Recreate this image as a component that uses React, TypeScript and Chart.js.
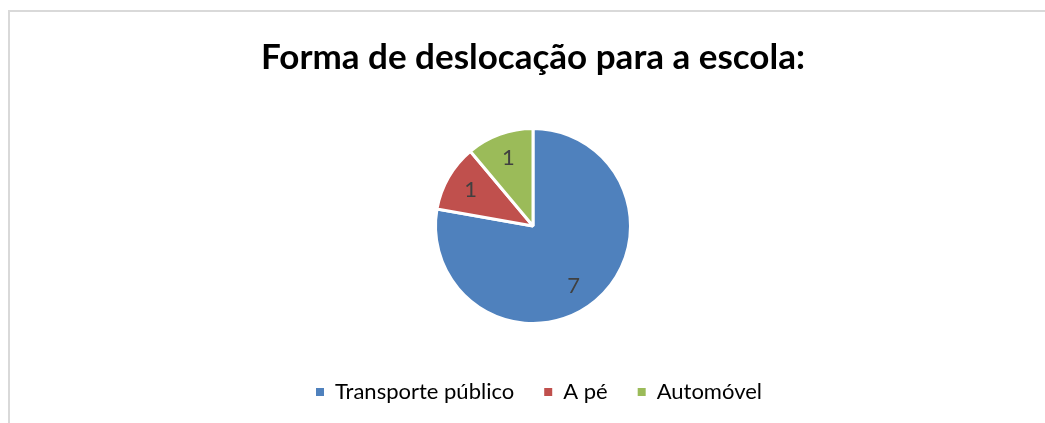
import React, { useEffect, useRef } from "react";
import { Chart, registerables } from "chart.js";

Chart.register(...registerables);

const chartTitle = "Forma de deslocação para a escola:";
const categories = ["Transporte público", "A pé", "Automóvel"];
const values = [7, 1, 1];
const sliceColors = ["#4F81BD", "#C0504D", "#9BBB59"];

const W = 1045;
const H = 423;

export default function App() {
  const ref = useRef<HTMLCanvasElement>(null);

  useEffect(() => {
    const canvas = ref.current;
    if (!canvas) return;

    const framePlugin = {
      id: "frame",
      beforeDraw(chart: any) {
        const ctx = chart.ctx;
        ctx.save();
        ctx.fillStyle = "#ffffff";
        ctx.fillRect(0, 0, chart.width, chart.height);
        ctx.strokeStyle = "#d9d9d9";
        ctx.lineWidth = 2;
        ctx.beginPath();
        ctx.moveTo(9, 10);
        ctx.lineTo(9, chart.height);
        ctx.moveTo(8, 11);
        ctx.lineTo(chart.width, 11);
        ctx.stroke();
        ctx.restore();
      },
    };

    const legendShiftPlugin = {
      id: "legendShift",
      afterLayout(chart: any) {
        const lg = chart.legend;
        if (lg) {
          lg.left += 6;
          lg.right += 6;
        }
      },
    };

    const labelPlugin = {
      id: "sliceLabels",
      afterDatasetsDraw(chart: any) {
        const ctx = chart.ctx;
        const meta = chart.getDatasetMeta(0);
        const data = chart.data.datasets[0].data;
        ctx.save();
        ctx.fillStyle = "#404040";
        ctx.font = "22px Lato";
        ctx.textAlign = "center";
        ctx.textBaseline = "middle";
        meta.data.forEach((arc: any, i: number) => {
          const p = arc.getProps(["x", "y", "startAngle", "endAngle", "outerRadius"], true);
          const mid = (p.startAngle + p.endAngle) / 2 + (i === 0 ? 0.1 : 0);
          const r = p.outerRadius * 0.74;
          ctx.fillText(String(data[i]), p.x + Math.cos(mid) * r, p.y + Math.sin(mid) * r);
        });
        ctx.restore();
      },
    };

    const defaultLabels = (Chart as any).overrides.pie.plugins.legend.labels.generateLabels;

    const chart = new Chart(canvas, {
      type: "pie",
      data: {
        labels: categories,
        datasets: [
          {
            data: values,
            backgroundColor: sliceColors,
            borderColor: "#ffffff",
            borderWidth: 3,
            radius: 97.5,
          } as any,
        ],
      },
      options: {
        responsive: false,
        animation: false,
        devicePixelRatio: 1,
        events: [],
        layout: { padding: { left: 21, right: 0, top: 20, bottom: 10 } },
        plugins: {
          title: {
            display: true,
            text: chartTitle,
            color: "#000000",
            font: { family: "Lato", size: 35, weight: "bold", lineHeight: 1.2 },
            padding: { top: 17, bottom: 22 },
          },
          legend: {
            display: true,
            position: "bottom",
            labels: {
              color: "#000000",
              font: { family: "Lato", size: 22 },
              boxWidth: 8,
              boxHeight: 8,
              padding: 30,
              generateLabels: (c: any) =>
                defaultLabels(c).map((l: any) => ({ ...l, lineWidth: 0, strokeStyle: l.fillStyle })),
            },
          },
          tooltip: { enabled: false },
        },
      } as any,
      plugins: [framePlugin, legendShiftPlugin, labelPlugin],
    });

    return () => chart.destroy();
  }, []);

  return (
    <div style={{ position: "fixed", left: 0, top: 0, width: W, height: H, background: "#fff" }}>
      <canvas ref={ref} width={W} height={H} style={{ display: "block", width: W, height: H }} />
    </div>
  );
}
